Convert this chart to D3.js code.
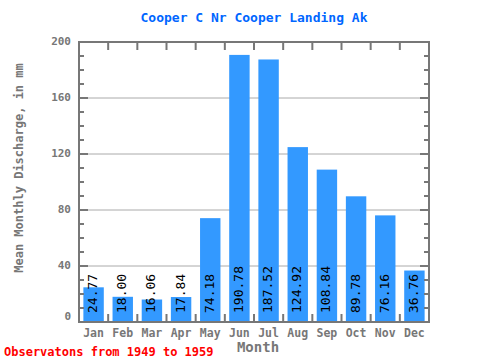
<!DOCTYPE html>
<html><head><meta charset="utf-8">
<script src="https://cdn.jsdelivr.net/npm/d3@7"></script>
<style>body{margin:0;background:#fff}svg{display:block}</style>
</head><body><svg id="c" width="480" height="360"></svg>
<script>
const months = ["Jan","Feb","Mar","Apr","May","Jun","Jul","Aug","Sep","Oct","Nov","Dec"];
const values = [24.77,18.00,16.06,17.84,74.18,190.78,187.52,124.92,108.84,89.78,76.16,36.76];
const yTicks = [0,40,80,120,160,200];
const titleText = "Cooper C Nr Cooper Landing Ak";
const xTitle = "Month";
const yTitle = "Mean Monthly Discharge, in mm";
const footer = "Observatons from 1949 to 1959";

const svg = d3.select("#c");
const L=79, R=429, T=42, B=322;
const font = "'DejaVu Sans Mono', 'Liberation Mono', monospace";
const axisCol = "#777777";
const x = d3.scaleBand().domain(months).range([L,R]).paddingInner(0.3).paddingOuter(0.15);
const xb = d3.scaleLinear().domain([0,12]).range([L,R]);
const y = d3.scaleLinear().domain([0,200]).range([B,T]);

// gridlines
svg.append("g").selectAll("line").data(yTicks.filter(t=>t>0&&t<200)).join("line")
  .attr("x1",L).attr("x2",R).attr("y1",d=>y(d)).attr("y2",d=>y(d))
  .attr("stroke","#aaaaaa").attr("stroke-width",1);

// bars
svg.append("g").selectAll("rect").data(values).join("rect")
  .attr("x",(d,i)=>x(months[i])).attr("width",x.bandwidth())
  .attr("y",d=>y(d)).attr("height",d=>B-y(d)).attr("fill","#3399ff");

// bar labels
svg.append("g").selectAll("text").data(values).join("text")
  .attr("transform",(d,i)=>`translate(${x(months[i])+x.bandwidth()/2},${B-9}) rotate(-90)`)
  .attr("dominant-baseline","middle").attr("text-anchor","start")
  .attr("font-family",font).attr("font-size",13).attr("fill","#000")
  .text(d=>d.toFixed(2));

// axes frame
const g = svg.append("g").attr("stroke",axisCol).attr("stroke-width",2).attr("fill","none");
g.append("rect").attr("x",L).attr("y",T).attr("width",R-L).attr("height",B-T);
const minor = d3.range(0,201,10);
g.selectAll(".ml").data(minor).join("line")
  .attr("x1",L).attr("x2",d=>L+(d%40===0?9:5)).attr("y1",d=>y(d)).attr("y2",d=>y(d));
g.selectAll(".mr").data(minor).join("line")
  .attr("x1",R).attr("x2",d=>R-(d%40===0?9:5)).attr("y1",d=>y(d)).attr("y2",d=>y(d));
const bounds = d3.range(1,12);
g.selectAll(".tt").data(bounds).join("line")
  .attr("x1",d=>xb(d)).attr("x2",d=>xb(d)).attr("y1",T).attr("y2",T+8);
g.selectAll(".tb").data(bounds).join("line")
  .attr("x1",d=>xb(d)).attr("x2",d=>xb(d)).attr("y1",B).attr("y2",B-8);

// y tick labels
svg.append("g").selectAll("text").data(yTicks).join("text")
  .attr("x",71).attr("y",d=>d===0?y(d)-5:y(d))
  .attr("dominant-baseline","middle").attr("text-anchor","end")
  .attr("font-family",font).attr("font-size",11).attr("font-weight","bold").attr("fill",axisCol)
  .text(d=>d);

// x tick labels
svg.append("g").selectAll("text").data(months).join("text")
  .attr("x",d=>x(d)+x.bandwidth()/2).attr("y",337)
  .attr("text-anchor","middle")
  .attr("font-family",font).attr("font-size",11.5).attr("font-weight","bold").attr("fill",axisCol)
  .text(d=>d);

// titles
svg.append("text").attr("x",(L+R)/2).attr("y",22).attr("text-anchor","middle")
  .attr("font-family",font).attr("font-size",13).attr("font-weight","bold").attr("fill","#0066ff")
  .text(titleText);
svg.append("text").attr("x",258).attr("y",352).attr("text-anchor","middle")
  .attr("font-family",font).attr("font-size",14).attr("font-weight","bold").attr("fill",axisCol)
  .text(xTitle);
svg.append("text").attr("transform","translate(23,168) rotate(-90)").attr("text-anchor","middle")
  .attr("font-family",font).attr("font-size",12).attr("font-weight","bold").attr("fill",axisCol)
  .text(yTitle);
svg.append("text").attr("x",4).attr("y",356).attr("text-anchor","start")
  .attr("font-family",font).attr("font-size",12).attr("font-weight","bold").attr("fill","#ff0000")
  .text(footer);
</script></body></html>
